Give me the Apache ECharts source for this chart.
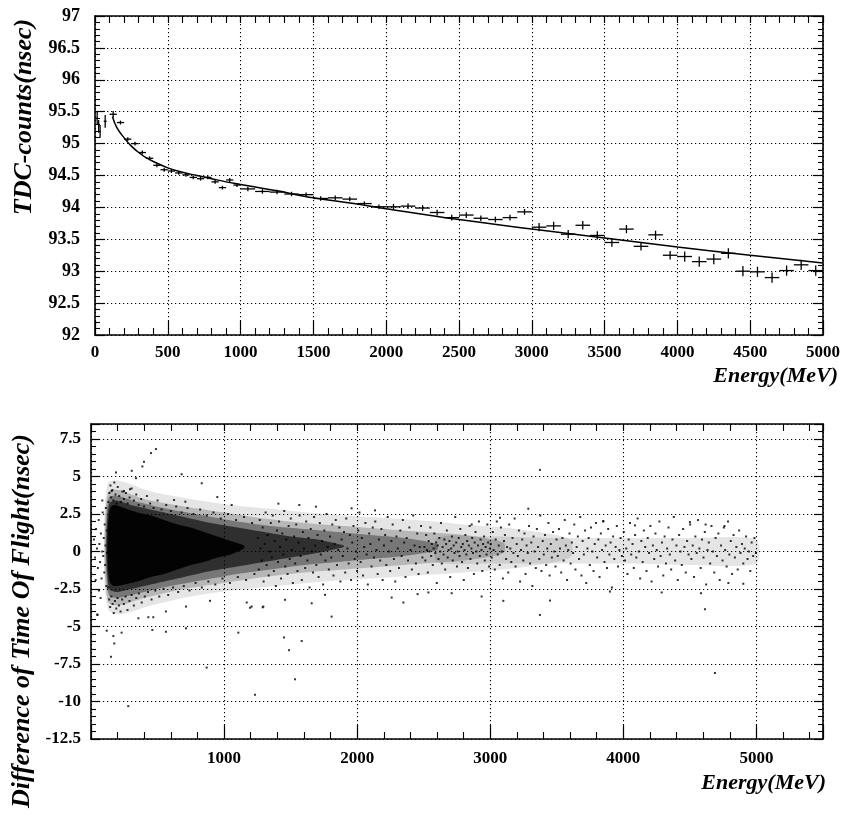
<!DOCTYPE html>
<html><head><meta charset="utf-8">
<script src="https://cdn.jsdelivr.net/npm/echarts@6/dist/echarts.min.js"></script>
<style>html,body{margin:0;padding:0;background:#fff}#c{width:846px;height:818px}</style>
</head><body><div id="c"></div>
<script>
// ---------- TOP PANEL DATA (TDC counts vs energy) ----------
const topE = [15,25,35,70,125,175,225,275,325,375,425,475,525,575,625,675,725,775,825,875,925,975,1050,1150,1250,1350,1450,1550,1650,1750,1850,1950,2050,2150,2250,2350,2450,2550,2650,2750,2850,2950,3050,3150,3250,3350,3450,3550,3650,3750,3850,3950,4050,4150,4250,4350,4450,4550,4650,4750,4850,4950];
const topV = [95.40,95.27,95.19,95.35,95.46,95.33,95.07,95.00,94.86,94.77,94.66,94.59,94.57,94.54,94.51,94.47,94.45,94.47,94.40,94.31,94.43,94.35,94.29,94.25,94.24,94.21,94.20,94.14,94.15,94.13,94.06,94.01,94.01,94.02,93.99,93.92,93.84,93.88,93.83,93.81,93.84,93.93,93.69,93.71,93.58,93.72,93.56,93.45,93.66,93.39,93.57,93.25,93.23,93.15,93.19,93.28,93.00,92.99,92.90,93.01,93.10,93.01];
const topXErr = [5,5,5,10,25,25,25,25,25,25,25,25,25,25,25,25,25,25,25,25,25,25,50,50,50,50,50,50,50,50,50,50,50,50,50,50,50,50,50,50,50,50,50,50,50,50,50,50,50,50,50,50,50,50,50,50,50,50,50,50,50,50];
const topYErr = [0.10,0.10,0.10,0.10,0.05,0.03,0.03,0.03,0.03,0.03,0.03,0.03,0.03,0.03,0.03,0.03,0.03,0.03,0.03,0.03,0.03,0.03,0.035,0.035,0.035,0.035,0.035,0.035,0.035,0.035,0.035,0.035,0.045,0.045,0.045,0.045,0.045,0.045,0.045,0.045,0.045,0.045,0.065,0.065,0.065,0.065,0.065,0.065,0.065,0.065,0.065,0.065,0.08,0.08,0.08,0.08,0.08,0.08,0.08,0.08,0.08,0.08];
const fitE = [120,150,200,250,300,350,400,500,600,700,800,900,1000,1250,1500,1750,2000,2500,3000,3500,4000,4500,5000];
const fitV = [95.42,95.25,95.09,94.96,94.86,94.78,94.72,94.62,94.55,94.50,94.45,94.40,94.36,94.26,94.15,94.07,93.98,93.81,93.66,93.52,93.38,93.25,93.13];
const topXTicks = {min:0, max:5000, step:500};
const topYTicks = {min:92, max:97, step:0.5};

// ---------- BOTTOM PANEL DATA (ToF difference vs energy) ----------
// population-density envelopes (nsec), from sparse to dense
const envAE  = [100,130,220,450,750,1050,1400,1750,2100,2450,2800,3200,3600];
const envALo = [-1.8,-3.9,-4.2,-3.6,-3.0,-2.6,-2.3,-2.0,-1.8,-1.6,-1.4,-1.1,-0.4];
const envAHi = [2.4,4.6,4.7,4.0,3.5,3.1,2.8,2.5,2.3,2.1,1.8,1.5,0.8];
const envBE  = [105,132,210,400,700,1000,1300,1600,1900,2200,2500,2800,3100];
const envBLo = [-1.4,-3.4,-3.6,-3.1,-2.5,-2.1,-1.7,-1.4,-1.2,-1.0,-0.8,-0.6,-0.1];
const envBHi = [1.9,4.0,4.1,3.5,3.0,2.6,2.2,1.9,1.7,1.5,1.3,1.1,0.6];
const envCE  = [112,135,200,350,600,850,1100,1350,1600,1850,2100,2350,2600];
const envCLo = [-1.0,-2.9,-3.1,-2.8,-2.3,-1.9,-1.5,-1.2,-0.9,-0.7,-0.5,-0.3,0.1];
const envCHi = [1.5,3.6,3.7,3.3,2.8,2.4,2.0,1.7,1.5,1.3,1.1,0.9,0.5];
const envDE  = [118,138,190,300,500,700,900,1100,1300,1500,1700,1900];
const envDLo = [-0.8,-2.5,-2.7,-2.5,-2.1,-1.7,-1.3,-1.0,-0.7,-0.4,-0.1,0.3];
const envDHi = [1.3,3.2,3.4,3.1,2.7,2.3,1.9,1.6,1.3,1.0,0.8,0.4];
const envEE  = [125,140,170,250,350,450,550,650,750,850,950,1050,1150];
const envELo = [-0.6,-2.0,-2.3,-2.2,-2.0,-1.7,-1.5,-1.2,-0.9,-0.7,-0.4,-0.2,0.2];
const envEHi = [1.2,2.8,3.1,2.9,2.6,2.4,2.1,1.8,1.6,1.3,1.0,0.7,0.4];
const envFE  = [2600,3000,3500,4000,4500,5000];
const envFLo = [-0.7,-0.8,-0.8,-0.8,-0.9,-0.8];
const envFHi = [0.9,1.0,0.9,0.9,0.9,0.8];

const dotsLeft = [[22,0.8],[30,-0.4],[38,1.5],[45,0.2],[52,-1.1],[58,2.1],[63,0.5],[68,-0.7],[74,1.2],[79,-1.8],[84,0.0],[88,2.6],[92,-0.3],[96,0.9],[100,-1.4],[103,1.8],[106,-0.9],[109,0.4],[112,2.9],[115,-2.3],[118,1.4],[120,-0.1],[48,-4.2],[60,-2.6],[35,-1.9],[85,3.4],[72,-3.1]];
const dotsEdge = [[130,3.3],[138,3.9],[146,4.4],[152,3.6],[160,4.1],[168,3.4],[175,4.6],[184,3.8],[192,3.2],[201,4.3],[212,3.7],[224,3.3],[236,4.0],[248,3.5],[262,3.9],[275,3.2],[290,3.6],[305,4.2],[322,3.4],[340,3.8],[358,3.1],[377,3.5],[398,3.0],[420,3.7],[444,3.2],[470,2.9],[500,3.4],[530,2.8],[565,3.1],[600,2.7],[640,3.0],[680,2.6],[725,2.9],[770,2.5],[820,2.8],[870,2.4],[920,2.6],[975,2.2],[1030,2.5],[1090,2.1],[1150,2.3],[1210,1.9],
[128,-2.4],[136,-3.2],[144,-3.7],[153,-3.0],[162,-3.5],[171,-4.1],[180,-3.3],[190,-3.8],[199,-3.1],[210,-3.6],[222,-4.0],[234,-3.2],[247,-3.5],[260,-3.0],[274,-3.9],[289,-3.3],[305,-2.9],[322,-3.6],[340,-3.1],[360,-2.8],[381,-3.4],[404,-3.0],[428,-2.7],[455,-3.2],[483,-2.6],[513,-3.0],[545,-2.5],[580,-2.9],[617,-2.4],[655,-2.7],[697,-2.3],[740,-2.6],[786,-2.1],[833,-2.4],[882,-2.0],[934,-2.2],[988,-1.8],[1044,-2.1],[1103,-1.7],[1165,-1.9],[1228,-1.5]];
const dotsMid = [[1253,0.9],[1261,-1.2],[1268,2.1],[1274,0.2],[1283,-0.6],[1290,1.6],[1297,-2.0],[1305,0.5],[1312,2.6],[1320,-0.9],[1327,1.1],[1335,-1.6],[1343,0.0],[1351,1.9],[1358,-0.4],[1366,2.4],[1374,-1.3],[1381,0.7],[1389,-2.3],[1397,1.4],[1405,-0.7],[1413,2.0],[1420,0.3],[1428,-1.8],[1437,1.2],[1445,-0.2],[1452,2.7],[1460,-1.0],[1468,0.8],[1477,-1.5],[1485,1.7],[1493,-0.5],[1501,2.2],[1509,0.1],[1517,-2.1],[1526,1.0],[1534,-0.8],[1542,1.8],[1551,-1.3],[1559,0.6],[1567,2.4],[1575,-0.3],[1584,-1.9],[1592,1.3],[1600,0.2],[1609,-1.1],[1617,2.0],[1626,-0.6],[1634,0.9],[1642,-2.4],[1651,1.5],[1659,0.0],[1668,-1.4],[1676,2.3],[1685,0.4],[1693,-0.9],[1702,1.1],[1710,-1.7],[1719,1.9],[1727,-0.2],[1736,0.7],[1744,-2.2],[1753,1.4],[1761,-0.6],[1770,2.5],[1779,0.3],[1787,-1.2],[1796,1.0],[1805,-0.4],[1813,1.8],[1822,-1.6],[1831,0.5],[1839,2.1],[1848,-0.9],[1857,0.1],[1866,1.6],[1874,-2.0],[1883,0.8],[1892,-0.3],[1901,1.3],[1910,-1.4],[1918,2.2],[1927,0.2],[1936,-0.8],[1945,1.1],[1954,-1.9],[1963,0.6],[1972,1.7],[1981,-0.5],[1990,0.0],[1999,-1.3],[2008,1.4],[2017,2.6],[2026,-0.7],[2035,0.9],[2044,-1.6],[2053,0.3],[2062,1.9],[2071,-0.2],[2080,-2.2],[2090,1.2],[2099,0.5],[2108,-1.0],[2117,1.6],[2126,-0.4],[2136,2.0],[2145,0.1],[2154,-1.5],[2163,0.8],[2173,-0.6],[2182,1.5],[2191,-1.9],[2201,0.4],[2210,1.1],[2219,-0.9],[2229,2.3],[2238,0.0],[2248,-1.3],[2257,0.7],[2267,1.8],[2276,-0.5],[2286,-2.0],[2295,1.0],[2305,0.2],[2314,-1.1],[2324,1.4],[2334,-0.3],[2343,2.1],[2353,0.6],[2363,-1.7],[2372,0.9],[2382,-0.6],[2392,1.6],[2401,0.1],[2411,-1.2],[2421,2.4],[2431,0.4],[2441,-0.8],[2451,1.2],[2461,-1.5],[2470,0.3],[2480,1.7],[2490,-0.4]];
const dotsFar1 = [[2505,0.3],[2512,-0.6],[2518,1.1],[2524,0.1],[2531,-1.4],[2537,0.7],[2543,0.0],[2550,1.6],[2556,-0.3],[2561,0.5],[2568,-0.9],[2574,0.2],[2580,1.2],[2587,-0.1],[2593,0.6],[2598,-2.1],[2605,0.4],[2611,-0.5],[2617,0.9],[2624,0.0],[2630,1.9],[2636,-0.8],[2642,0.3],[2649,-0.2],[2655,0.8],[2661,-1.2],[2668,0.5],[2674,1.4],[2680,-0.4],[2687,0.1],[2693,0.7],[2699,-1.7],[2706,0.2],[2712,1.0],[2718,-0.6],[2725,0.4],[2731,-0.1],[2737,2.3],[2744,0.6],[2750,-1.0],[2756,0.0],[2763,0.9],[2769,-0.3],[2775,1.5],[2782,0.3],[2788,-0.7],[2794,0.5],[2801,-1.9],[2807,0.1],[2813,1.1],[2820,-0.2],[2826,0.7],[2832,-1.1],[2839,0.4],[2845,1.7],[2851,-0.5],[2858,0.2],[2864,0.9],[2870,-0.1],[2877,-1.5],[2883,0.6],[2889,1.3],[2896,0.0],[2902,-0.8],[2908,0.4],[2915,2.0],[2921,-0.3],[2927,0.8],[2934,0.1],[2940,-1.3],[2946,0.5],[2953,1.0],[2959,-0.6],[2965,0.3],[2972,-0.2],[2978,1.8],[2984,0.6],[2991,-1.0],[2997,0.2]];
const dotsFar2 = [[3004,0.5],[3011,-0.4],[3019,1.3],[3025,0.1],[3034,-1.2],[3041,0.8],[3049,2.0],[3056,-0.2],[3064,0.4],[3071,-0.9],[3080,1.6],[3087,0.0],[3095,-1.8],[3103,0.7],[3110,1.1],[3119,-0.5],[3126,0.3],[3135,-1.4],[3142,1.8],[3150,0.2],[3158,-0.7],[3167,0.9],[3174,-0.1],[3183,2.2],[3190,-1.0],[3199,0.5],[3207,-0.3],[3215,1.4],[3224,-2.0],[3231,0.1],[3240,0.8],[3248,-0.6],[3257,1.2],[3265,-1.5],[3273,0.4],[3282,-0.1],[3291,1.7],[3299,-0.8],[3308,0.6],[3316,-2.3],[3325,1.0],[3333,0.0],[3342,-1.1],[3350,1.5],[3359,0.3],[3368,-0.5],[3376,2.4],[3385,-1.3],[3394,0.7],[3402,-0.2],[3411,1.1],[3420,-0.9],[3428,0.2],[3437,1.9],[3446,-1.6],[3455,0.5],[3463,-0.4],[3472,1.3],[3481,0.0],[3490,-1.0],[3498,0.8],
[3507,-0.3],[3516,1.5],[3524,0.2],[3533,-1.4],[3542,0.9],[3551,-0.6],[3560,2.1],[3568,0.4],[3577,-1.9],[3586,0.1],[3595,1.2],[3604,-0.8],[3613,0.6],[3622,-0.1],[3631,1.8],[3640,-1.2],[3649,0.3],[3658,1.0],[3667,-0.5],[3676,2.3],[3685,-1.6],[3694,0.7],[3703,-0.2],[3712,1.4],[3721,-2.1],[3730,0.2],[3739,0.9],[3748,-0.9],[3757,1.6],[3767,0.0],[3776,-1.3],[3785,0.5],[3794,1.9],[3803,-0.4],[3812,0.8],[3821,-1.7],[3831,1.2],[3840,0.1],[3849,2.0],[3858,-0.7],[3867,0.4],[3877,-1.1],[3886,1.5],[3895,-0.2],[3904,0.6],[3914,-2.4],[3923,1.0],[3932,-0.5],[3942,0.3],[3951,1.7],[3960,-1.0],[3970,0.1],[3979,0.9],[3989,-0.3]];
const dotsFar3 = [[4003,1.3],[4012,-0.6],[4022,0.2],[4031,-1.5],[4040,0.8],[4050,1.9],[4059,-0.2],[4069,0.5],[4078,-1.1],[4088,1.1],[4097,-0.4],[4107,2.2],[4116,0.0],[4126,-1.8],[4135,0.7],[4145,-0.7],[4154,1.4],[4164,0.3],[4174,-1.3],[4183,0.9],[4193,-0.1],[4203,1.7],[4212,-2.0],[4222,0.4],[4232,-0.5],[4241,1.2],[4251,0.1],[4261,-1.0],[4271,2.0],[4280,-0.3],[4290,0.6],[4300,-1.6],[4310,1.0],[4320,-0.8],[4329,0.2],[4339,1.6],[4349,-0.2],[4359,-1.2],[4369,0.8],[4379,2.3],[4389,-0.6],[4399,0.4],[4409,-1.9],[4419,1.1],[4429,0.0],[4439,-0.9],[4449,1.5],[4459,0.3],[4469,-1.4],[4479,0.7],[4490,-0.2],
[4502,1.8],[4511,-0.5],[4521,0.4],[4531,-1.7],[4541,1.0],[4551,-0.1],[4561,2.1],[4571,0.2],[4581,-1.1],[4591,0.8],[4602,-0.4],[4612,1.3],[4622,-2.2],[4632,0.1],[4642,0.6],[4652,-0.8],[4662,1.7],[4673,0.0],[4683,-1.4],[4693,0.9],[4703,-0.3],[4714,1.2],[4724,-1.9],[4734,0.4],[4745,-0.6],[4755,1.6],[4765,0.1],[4776,-1.0],[4786,2.0],[4796,-0.2],[4807,0.7],[4817,-1.5],[4828,1.1],[4838,-0.4],[4849,0.3],[4859,-1.2],[4870,1.4],[4880,-0.1],[4891,0.5],[4901,-0.8],[4912,0.2],[4922,1.0],[4933,-0.5],[4943,0.0],[4954,-1.3],[4964,0.6],[4975,-0.3],[4985,0.9],[4996,-0.1]];
const dotsOut = [[488,6.83],[451,6.56],[398,5.98],[386,5.67],[306,5.38],[188,5.27],[338,4.89],[681,5.15],[832,4.55],[949,3.63],[624,3.43],[709,3.32],[1057,3.10],[1408,3.19],[1565,3.10],[1690,2.99],[1958,2.88],[2134,2.74],[293,4.15],[155,4.03],[248,4.03],[3373,5.44],[3286,2.85],[3073,2.25],[2860,1.8],[3849,2.03],[4087,1.74],[4500,1.96],[4618,1.80],[4760,1.7],
[1658,-3.45],[1170,-3.40],[1207,-3.67],[1290,-3.72],[1808,-4.34],[1450,-5.73],[1583,-5.97],[1488,-6.58],[1107,-5.41],[714,-5.12],[563,-5.35],[461,-5.23],[230,-5.41],[168,-5.64],[175,-6.13],[118,-5.28],[150,-7.02],[48,-4.23],[2259,-3.07],[2347,-3.40],[2535,-2.73],[2710,-2.78],[280,-10.31],[869,-7.74],[1232,-9.55],[1533,-8.52],[356,-4.45],[431,-4.38],[468,-4.38],[563,-4.0],[714,-3.67],[894,-3.29],[1195,-3.75],[1295,-3.67],[1458,-3.22],[1758,-2.89],[2454,-2.84],[3373,-4.23],[3449,-3.27],[3098,-3.29],[2935,-3.0],[4613,-3.85],[3899,-2.67],[4288,-2.73],[4583,-2.78],[4789,-2.1],[4901,-2.15],[4688,-8.1]];
const botXTicks = {min:0, max:5500, step:1000};
const botYTicks = {min:-12.5, max:8.5, step:2.5};

// ---------- CHART ----------
const FONT = "'Liberation Serif','Times New Roman',serif";
const BLACK = '#000';
const dotted = {show:true, lineStyle:{color:BLACK, width:1.1, type:[1.2,2.8]}};

function axis(grid, pos, t, o) {
  return {
    type:'value', gridIndex:grid, position:pos, min:t.min, max:t.max, interval:t.step,
    axisLine:{show:true, onZero:false, lineStyle:{color:BLACK, width:1.6}},
    axisTick:{show:true, inside:true, length:o.tick, lineStyle:{color:BLACK, width:1.2}},
    minorTick:{show:true, splitNumber:5, length:o.minor, lineStyle:{color:BLACK, width:1.1}},
    splitLine: o.split ? dotted : {show:false},
    axisLabel: o.label ? Object.assign({color:BLACK, fontFamily:FONT, fontWeight:'bold', fontSize:o.fs, margin:o.margin}, o.extra||{}) : {show:false}
  };
}

const xAxes = [
  axis(0,'bottom',topXTicks,{tick:14,minor:7,split:true,label:true,fs:17,margin:9,extra:{formatter:v => String(v)}}),
  axis(0,'top',topXTicks,{tick:7,minor:7,split:false,label:false}),
  axis(1,'bottom',botXTicks,{tick:14,minor:7,split:true,label:true,fs:17,margin:11,
     extra:{formatter:v => (v>0 && v%1000===0 && v<=5000) ? String(v) : ''}}),
  axis(1,'top',botXTicks,{tick:7,minor:7,split:false,label:false})
];
const yAxes = [
  axis(0,'left',topYTicks,{tick:10,minor:5,split:true,label:true,fs:18,margin:15}),
  axis(0,'right',topYTicks,{tick:10,minor:5,split:false,label:false}),
  axis(1,'left',botYTicks,{tick:9,minor:5,split:true,label:true,fs:17,margin:10,extra:{showMaxLabel:false}}),
  axis(1,'right',botYTicks,{tick:9,minor:5,split:false,label:false})
];

// density envelope drawn as a polygon through the axis scales
function band(E, lo, hi, opacity) {
  return {
    type:'custom', xAxisIndex:2, yAxisIndex:2, silent:true, z:1,
    data: E.map((e,i)=>[e, lo[i], hi[i]]),
    encode:{x:0, y:[1,2]},
    renderItem:function(params, api){
      if (params.dataIndex !== 0) return null;
      const pts = [];
      for (let i=0;i<E.length;i++) pts.push(api.coord([E[i], hi[i]]));
      for (let i=E.length-1;i>=0;i--) pts.push(api.coord([E[i], lo[i]]));
      return {type:'polygon', shape:{points:pts, smooth:0.25}, style:{fill:BLACK, opacity:opacity}};
    }
  };
}

const allDots = [].concat(dotsLeft, dotsEdge, dotsMid, dotsFar1, dotsFar2, dotsFar3, dotsOut);

const option = {
  animation:false,
  backgroundColor:'#fff',
  grid:[
    {left:95, top:16, width:728, height:319, containLabel:false},
    {left:91, top:424, width:732, height:315, containLabel:false}
  ],
  xAxis:xAxes,
  yAxis:yAxes,
  series:[
    {type:'custom', xAxisIndex:0, yAxisIndex:0, z:3,
     data: topE.map((e,i)=>[e, topV[i], topXErr[i], topYErr[i]]),
     encode:{x:0, y:1},
     renderItem:function(params, api){
       const x = api.value(0), y = api.value(1), xe = api.value(2), ye = api.value(3);
       const a = api.coord([x-xe, y]), b = api.coord([x+xe, y]);
       const c = api.coord([x, y-ye]), d = api.coord([x, y+ye]);
       const st = {stroke:BLACK, lineWidth:1.3};
       return {type:'group', children:[
         {type:'line', shape:{x1:a[0], y1:a[1], x2:b[0], y2:b[1]}, style:st},
         {type:'line', shape:{x1:c[0], y1:c[1], x2:d[0], y2:d[1]}, style:st}
       ]};
     }},
    {type:'line', xAxisIndex:0, yAxisIndex:0, data: fitE.map((e,i)=>[e, fitV[i]]), smooth:0.4,
     symbol:'none', lineStyle:{color:BLACK, width:1.5}, z:4},
    band(envAE, envALo, envAHi, 0.10),
    band(envFE, envFLo, envFHi, 0.10),
    band(envBE, envBLo, envBHi, 0.20),
    band(envCE, envCLo, envCHi, 0.35),
    band(envDE, envDLo, envDHi, 0.60),
    band(envEE, envELo, envEHi, 0.92),
    {type:'scatter', xAxisIndex:2, yAxisIndex:2, data: allDots, symbol:'rect', symbolSize:2,
     itemStyle:{color:BLACK}, silent:true, z:5}
  ],
  graphic:[
    {type:'text', x:24, y:117, rotation:Math.PI/2,
     style:{text:'TDC-counts(nsec)', font:'italic bold 26px "Liberation Serif"', fill:BLACK,
            textAlign:'center', textVerticalAlign:'middle', align:'center', verticalAlign:'middle'}},
    {type:'text', x:838, y:376,
     style:{text:'Energy(MeV)', font:'italic bold 22px "Liberation Serif"', fill:BLACK,
            textAlign:'right', textVerticalAlign:'middle', align:'right', verticalAlign:'middle'}},
    {type:'text', x:22, y:621, rotation:Math.PI/2,
     style:{text:'Difference of Time Of Flight(nsec)', font:'italic bold 26px "Liberation Serif"', fill:BLACK,
            textAlign:'center', textVerticalAlign:'middle', align:'center', verticalAlign:'middle'}},
    {type:'text', x:826, y:783,
     style:{text:'Energy(MeV)', font:'italic bold 22px "Liberation Serif"', fill:BLACK,
            textAlign:'right', textVerticalAlign:'middle', align:'right', verticalAlign:'middle'}}
  ]
};
const chart = echarts.init(document.getElementById('c'), null, {renderer:'canvas'});
chart.setOption(option);
</script></body></html>
